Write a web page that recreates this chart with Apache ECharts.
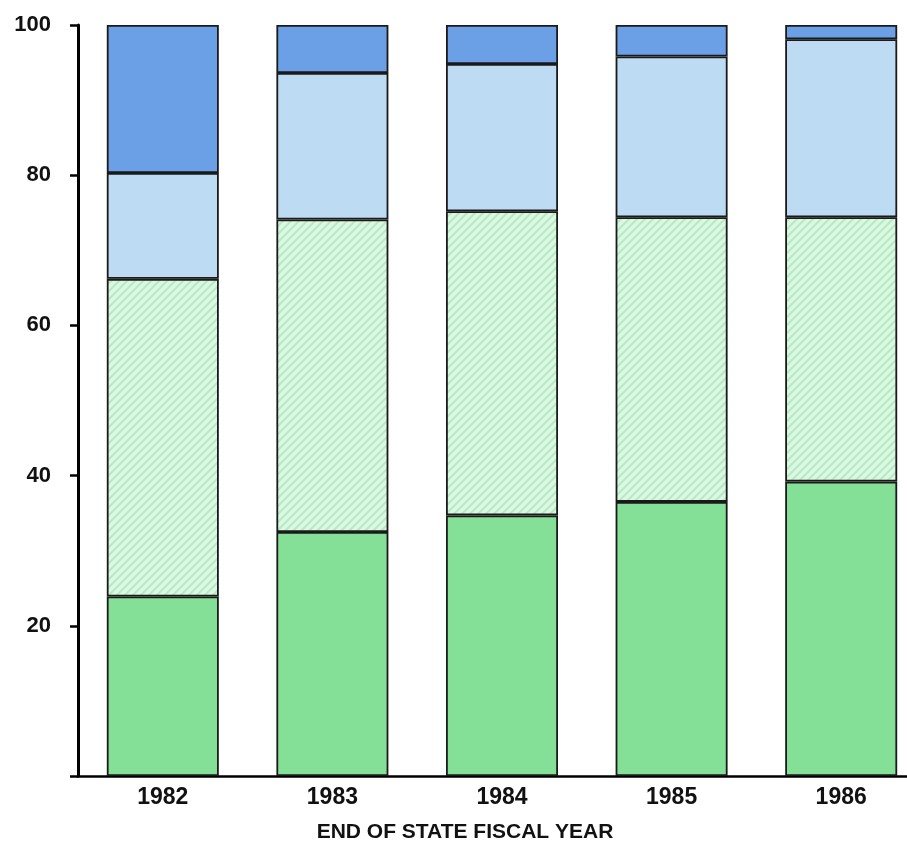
<!DOCTYPE html>
<html><head><meta charset="utf-8">
<script src="https://cdn.jsdelivr.net/npm/echarts@6/dist/echarts.min.js"></script>
<style>html,body{margin:0;padding:0;background:#fff;overflow:hidden}#c{width:926px;height:845px}</style>
</head><body><div id="c"></div>
<script>
const years = ['1982','1983','1984','1985','1986'];
const seriesA = [23.9, 32.5, 34.7, 36.5, 39.2];   // solid green (bottom)
const seriesB = [42.3, 41.6, 40.5, 37.9, 35.2];   // hatched pale green
const seriesC = [14.1, 19.5, 19.6, 21.4, 23.7];   // light blue
const seriesD = [19.7, 6.4, 5.2, 4.2, 1.9];       // dark blue (top)
const yTicks = [20, 40, 60, 80, 100];
const xTitle = 'END OF STATE FISCAL YEAR';

function hatch(){
  const c = document.createElement('canvas'); c.width = 8; c.height = 8;
  const g = c.getContext('2d');
  g.fillStyle = '#dcf7e2'; g.fillRect(0,0,8,8);
  g.strokeStyle = '#b5ebc3'; g.lineWidth = 2;
  g.beginPath();
  g.moveTo(-2,10); g.lineTo(10,-2);
  g.moveTo(-6,6); g.lineTo(6,-6);
  g.moveTo(2,14); g.lineTo(14,2);
  g.stroke();
  return c;
}

const chart = echarts.init(document.getElementById('c'));
const border = {borderColor:'#1a1a1a', borderWidth:1.8};
const font = 'Liberation Sans, Arial, sans-serif';
chart.setOption({
  animation:false,
  grid:{left:78, top:25, right:0, bottom:69},
  xAxis:{type:'category', data:years,
    axisLine:{lineStyle:{color:'#000', width:2.5}},
    axisTick:{show:false},
    axisLabel:{color:'#111', fontSize:23, fontWeight:'bold', fontFamily:font, margin:10}},
  yAxis:{type:'value', min:0, max:100, interval:20,
    axisLine:{show:true, lineStyle:{color:'#000', width:3}},
    axisTick:{show:true, length:8, lineStyle:{color:'#000', width:2.5}},
    splitLine:{show:false},
    axisLabel:{color:'#111', fontSize:22, fontWeight:'bold', fontFamily:font, margin:27,
      formatter:v => yTicks.indexOf(v) >= 0 ? String(v) : ''}},
  graphic:[{type:'text', x:465, y:832,
    style:{text:xTitle, fill:'#111', font:'bold 21px '+font, align:'center', verticalAlign:'middle',
      textAlign:'center', textVerticalAlign:'middle'}}],
  series:[
    {type:'bar', stack:'s', barWidth:112, data:seriesA, itemStyle:Object.assign({color:'#84df97'}, border)},
    {type:'bar', stack:'s', data:seriesB, itemStyle:Object.assign({color:{image:hatch(), repeat:'repeat'}}, border)},
    {type:'bar', stack:'s', data:seriesC, itemStyle:Object.assign({color:'#bddcf4'}, border)},
    {type:'bar', stack:'s', data:seriesD, itemStyle:Object.assign({color:'#6b9fe6'}, border)}
  ]
});
</script></body></html>
